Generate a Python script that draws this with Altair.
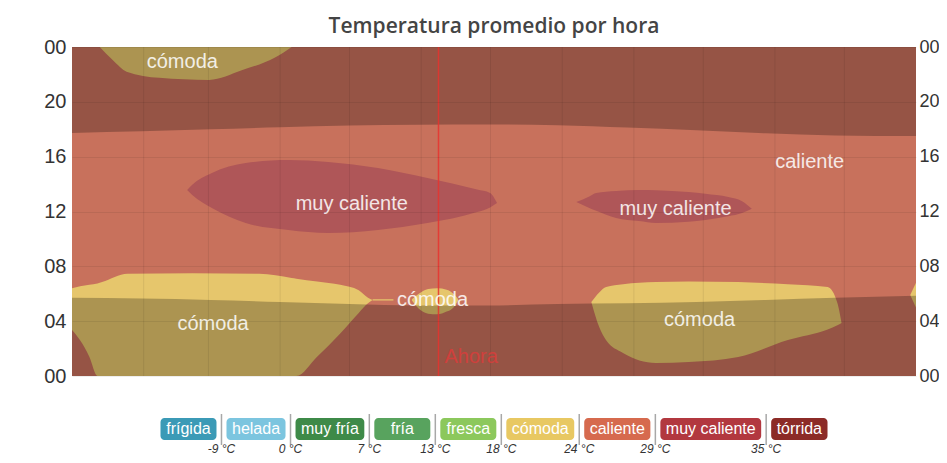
import altair as alt
import pandas as pd

TITLE = "Temperatura promedio por hora"
MONTH_NAMES = ["ene.", "feb.", "mar.", "abr.", "may.", "jun.", "jul.", "ago.", "sep.", "oct.", "nov.", "dic."]
MONTH_DAYS = [31, 28, 31, 30, 31, 30, 31, 31, 30, 31, 30, 31]
HOUR_TICKS = [0, 4, 8, 12, 16, 20, 24]
NOW_DAY = 158.5
NOW_LABEL = "Ahora"

# --- temperature regions (day of year, lower hour, upper hour) ---
comoda_a_day = [0, 3.5, 7.5, 11, 13, 24, 52, 81, 95, 97, 106, 116, 124, 128, 130]
comoda_a_lo = [3.35, 2.6, 1.4, 0, 0, 0, 0, 0, 0, 0, 1.4, 3.1, 4.6, 5.3, 5.54]
comoda_a_hi = [6.4, 6.55, 6.65, 6.75, 6.85, 7.45, 7.5, 7.45, 7.15, 7.1, 6.9, 6.65, 6.25, 5.7, 5.54]

comoda_trail_day = [130, 134, 139]
comoda_trail_lo = [5.5, 5.5, 5.5]
comoda_trail_hi = [5.6, 5.6, 5.6]

comoda_b_day = [147, 150, 154, 158, 162, 165, 167]
comoda_b_lo = [5.5, 4.9, 4.55, 4.5, 4.7, 5.0, 5.5]
comoda_b_hi = [5.6, 6.0, 6.35, 6.4, 6.3, 6.0, 5.6]

comoda_c_day = [12, 17.6, 23.6, 37.8, 59.3, 73.4, 88, 95]
comoda_c_lo = [24, 23.05, 22.2, 21.75, 21.6, 22.3, 23.25, 24]
comoda_c_hi = [24, 24, 24, 24, 24, 24, 24, 24]

comoda_d_day = [224.6, 228, 231, 238.3, 252.5, 266.7, 288.1, 309.6, 326.8, 331, 332.8]
comoda_d_lo = [5.4, 3.57, 2.6, 1.68, 0.95, 1.02, 1.39, 2.63, 3.4, 3.7, 3.87]
comoda_d_hi = [5.4, 6.1, 6.49, 6.7, 6.86, 6.9, 6.85, 6.7, 6.49, 5.33, 3.87]

comoda_e_day = [362.5, 365]
comoda_e_lo = [5.9, 5.0]
comoda_e_hi = [5.9, 6.8]

muy_a_day = [49.8, 52, 60.5, 75.1, 93.6, 110.8, 132.3, 153.7, 175.2, 180.8, 183.8]
muy_a_lo = [13.57, 13.2, 12.26, 11.16, 10.65, 10.43, 10.65, 11.16, 11.96, 12.3, 12.62]
muy_a_hi = [13.57, 13.95, 14.81, 15.54, 15.76, 15.61, 15.17, 14.44, 13.6, 13.35, 12.62]

muy_b_day = [218.1, 223.7, 226.7, 235.3, 245.2, 252.5, 266.6, 273.9, 283.8, 289.8, 294]
muy_b_lo = [12.69, 12.26, 12.05, 11.53, 11.3, 11.16, 11.25, 11.38, 11.65, 11.89, 12.2]
muy_b_hi = [12.69, 13.1, 13.35, 13.5, 13.57, 13.55, 13.42, 13.3, 13.06, 12.75, 12.2]

# --- daylight (night is shaded darker) ---
sun_day = [0, 30, 60, 90, 120, 150, 180, 210, 240, 270, 300, 330, 365]
sunrise = [5.7, 5.65, 5.55, 5.4, 5.25, 5.15, 5.15, 5.25, 5.3, 5.4, 5.55, 5.7, 5.85]
sunset = [17.73, 17.85, 18.0, 18.15, 18.27, 18.33, 18.35, 18.3, 18.12, 17.92, 17.7, 17.55, 17.5]

# --- region annotations ---
label_text = ["cómoda", "muy caliente", "caliente", "muy caliente", "cómoda", "cómoda", "cómoda"]
label_day = [47.7, 121, 319, 261, 155.9, 61, 271.4]
label_hour = [22.9, 12.55, 15.6, 12.2, 5.54, 3.8, 4.1]

# --- legend ---
LEG_CATS = ["frígida", "helada", "muy fría", "fría", "fresca", "cómoda", "caliente", "muy caliente", "tórrida"]
LEG_COLORS = ["#3B9AB6", "#7CC5DF", "#3E8A48", "#58A35E", "#8CC85C", "#E8C862", "#D66A4E", "#B2383F", "#8C2B27"]
LEG_THRESH = ["-9 °C", "0 °C", "7 °C", "13 °C", "18 °C", "24 °C", "29 °C", "35 °C"]

COL_CALIENTE = "#C8715C"
COL_COMODA = "#E6C66C"
COL_MUY = "#AF5658"

W, H = 844, 329
FONT = "Liberation Sans"

year_days = sum(MONTH_DAYS)
month_starts, month_mids = [], []
acc = 0
for n in MONTH_DAYS:
    month_starts.append(acc)
    month_mids.append(acc + n / 2)
    acc += n

xscale = alt.Scale(domain=[0, year_days], nice=False, zero=False)
yscale = alt.Scale(domain=[HOUR_TICKS[0], HOUR_TICKS[-1]], nice=False, zero=False)

names_js = "[" + ",".join("'" + m + "'" for m in MONTH_NAMES) + "]"
x_axis = alt.Axis(
    values=month_mids, labelExpr=f"{names_js}[floor(datum.value / {year_days / 12:.4f})]",
    title=None, grid=False, ticks=False, domain=False, labelColor="#3F66C6",
    labelFontSize=19, labelFont=FONT, labelPadding=3, labelFlush=False,
)
hour_expr = "datum.value == 24 ? '00' : (datum.value < 10 ? '0' + datum.value : '' + datum.value)"
y_axis_left = alt.Axis(
    values=HOUR_TICKS, labelExpr=hour_expr, title=None, ticks=False, domain=False,
    grid=True, gridColor="#000000", gridOpacity=0.07, zindex=1,
    labelColor="#333333", labelFontSize=20, labelFont=FONT, labelPadding=6, orient="left",
)
y_axis_right = alt.Axis(
    values=HOUR_TICKS, labelExpr=hour_expr, title=None, ticks=False, domain=False,
    grid=False, labelColor="#333333", labelFontSize=18, labelFont=FONT, labelPadding=3, orient="right",
)

background = pd.DataFrame([{"start": 0, "end": year_days, "lo": HOUR_TICKS[0], "hi": HOUR_TICKS[-1]}])
bg = alt.Chart(background).mark_rect(color=COL_CALIENTE).encode(
    x=alt.X("start:Q", scale=xscale, axis=x_axis),
    x2="end:Q",
    y=alt.Y("lo:Q", scale=yscale, axis=y_axis_left),
    y2="hi:Q",
)


def band(days, lo, hi, color, opacity=1.0, axis=None):
    df = pd.DataFrame({"day": days, "lo": lo, "hi": hi})
    return alt.Chart(df).mark_area(interpolate="monotone", color=color, opacity=opacity).encode(
        x=alt.X("day:Q", scale=xscale, axis=None),
        y=alt.Y("lo:Q", scale=yscale, axis=axis),
        y2="hi:Q",
    )


region_layers = [
    band(comoda_a_day, comoda_a_lo, comoda_a_hi, COL_COMODA),
    band(comoda_trail_day, comoda_trail_lo, comoda_trail_hi, COL_COMODA),
    band(comoda_b_day, comoda_b_lo, comoda_b_hi, COL_COMODA),
    band(comoda_c_day, comoda_c_lo, comoda_c_hi, COL_COMODA),
    band(comoda_d_day, comoda_d_lo, comoda_d_hi, COL_COMODA),
    band(comoda_e_day, comoda_e_lo, comoda_e_hi, COL_COMODA),
    band(muy_a_day, muy_a_lo, muy_a_hi, COL_MUY),
    band(muy_b_day, muy_b_lo, muy_b_hi, COL_MUY),
]
night_layers = [
    band(sun_day, [HOUR_TICKS[0]] * len(sun_day), sunrise, "#000000", 0.25, axis=y_axis_right),
    band(sun_day, sunset, [HOUR_TICKS[-1]] * len(sun_day), "#000000", 0.25),
]

month_lines = pd.DataFrame({"day": month_starts[1:]})
grid_v = alt.Chart(month_lines).mark_rule(color="#000000", opacity=0.08, strokeWidth=1).encode(
    x=alt.X("day:Q", scale=xscale, axis=None),
)

now_df = pd.DataFrame({"day": [NOW_DAY], "text": [NOW_LABEL], "hour": [1.4]})
now_rule = alt.Chart(now_df).mark_rule(color="#E8322E", opacity=0.85, strokeWidth=1.5).encode(
    x=alt.X("day:Q", scale=xscale, axis=None),
)
now_text = alt.Chart(now_df).mark_text(
    align="left", baseline="middle", dx=6, fontSize=20, font=FONT, color="#E23A3A", opacity=0.75,
).encode(
    x=alt.X("day:Q", scale=xscale, axis=None),
    y=alt.Y("hour:Q", scale=yscale, axis=None),
    text="text:N",
)

labels = pd.DataFrame({"text": label_text, "day": label_day, "hour": label_hour})
label_layer = alt.Chart(labels).mark_text(
    fontSize=20, font=FONT, color="#FFFFFF", opacity=0.85, baseline="middle", align="center",
).encode(
    x=alt.X("day:Q", scale=xscale, axis=None),
    y=alt.Y("hour:Q", scale=yscale, axis=None),
    text="text:N",
)

# ---------------- legend strip (below the plot, laid out from label widths) ----------------
CHAR_W = {"f": 278, "r": 333, "í": 278, "g": 556, "i": 222, "d": 556, "a": 556, "h": 556, "e": 556,
          "l": 222, "m": 833, "u": 556, "y": 500, " ": 278, "s": 500, "c": 500, "ó": 556, "o": 556,
          "n": 556, "t": 278}
LEG_FONT = 16


def text_w(s):
    return sum(CHAR_W.get(ch, 556) for ch in s) * LEG_FONT / 1000


px_to_day = year_days / W
box_w = [max(56, text_w(n) + 11) for n in LEG_CATS]
gap = 10
total = sum(box_w) + gap * (len(box_w) - 1)
pos = (W - total) / 2
leg_rows, sep_rows = [], []
for i, (n, bw) in enumerate(zip(LEG_CATS, box_w)):
    leg_rows.append({"name": n, "x0": pos * px_to_day, "x1": (pos + bw) * px_to_day,
                     "xm": (pos + bw / 2) * px_to_day})
    pos += bw
    if i < len(LEG_THRESH):
        sep_rows.append({"xs": (pos + gap / 2) * px_to_day, "label": LEG_THRESH[i]})
    pos += gap
leg_df = pd.DataFrame(leg_rows)
sep_df = pd.DataFrame(sep_rows)

leg_scale = alt.Scale(domain=LEG_CATS, range=LEG_COLORS)
boxes = alt.Chart(leg_df).mark_rect(cornerRadius=4).encode(
    x=alt.X("x0:Q", scale=xscale, axis=None), x2="x1:Q",
    y=alt.value(H + 42), y2=alt.value(H + 64),
    color=alt.Color("name:N", scale=leg_scale, legend=None),
)
box_text = alt.Chart(leg_df).mark_text(fontSize=LEG_FONT, font=FONT, color="#FFFFFF", baseline="middle").encode(
    x=alt.X("xm:Q", scale=xscale, axis=None), y=alt.value(H + 53), text="name:N",
)
seps = alt.Chart(sep_df).mark_rule(color="#A8A8A8", strokeWidth=1.5).encode(
    x=alt.X("xs:Q", scale=xscale, axis=None), y=alt.value(H + 38), y2=alt.value(H + 69),
)
sep_text = alt.Chart(sep_df).mark_text(fontSize=12, font=FONT, fontStyle="italic", color="#333333",
                                      baseline="middle").encode(
    x=alt.X("xs:Q", scale=xscale, axis=None), y=alt.value(H + 73), text="label:N",
)

chart = alt.layer(
    bg, *region_layers, *night_layers, grid_v, now_rule, now_text, label_layer,
    boxes, box_text, seps, sep_text,
).resolve_axis(y="independent").resolve_scale(color="independent").properties(
    width=W, height=H,
    autosize=alt.AutoSizeParams(type="none"),
    padding={"left": 64, "top": 39, "right": 23, "bottom": 79},
    title=alt.TitleParams(TITLE, font="Open Sans", fontSize=21, fontWeight=600, color="#444444",
                          anchor="middle", offset=0),
).configure_view(stroke=None)

chart.save("out.html", embed_options={"renderer": "svg", "actions": False})
